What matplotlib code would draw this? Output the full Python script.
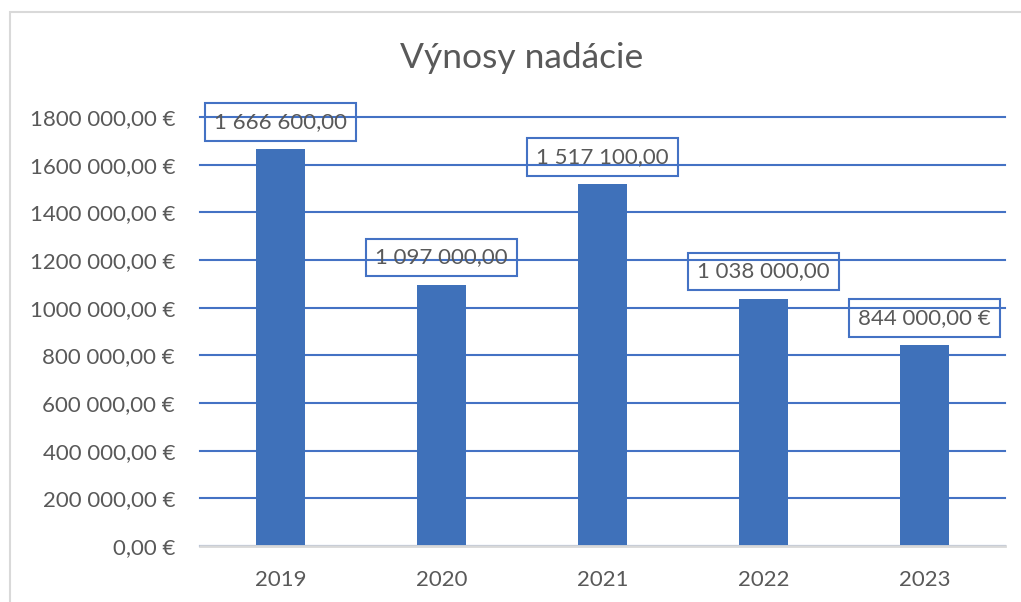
import matplotlib.pyplot as plt
from matplotlib.patches import Rectangle

years = ["2019", "2020", "2021", "2022", "2023"]
values = [1666600, 1097000, 1517100, 1038000, 844000]
labels = ["1 666 600,00", "1 097 000,00", "1 517 100,00", "1 038 000,00", "844 000,00 €"]
yticks = [0, 200000, 400000, 600000, 800000, 1000000, 1200000, 1400000, 1600000, 1800000]
ytick_labels = ["0,00 €", "200 000,00 €", "400 000,00 €", "600 000,00 €", "800 000,00 €",
                "1000 000,00 €", "1200 000,00 €", "1400 000,00 €", "1600 000,00 €", "1800 000,00 €"]

blue = "#4472C4"
bar_blue = "#3F71BA"
grey = "#595959"

plt.rcParams["font.family"] = ["Lato", "DejaVu Sans"]

W, H = 1021, 602
fig = plt.figure(figsize=(W / 100, H / 100), dpi=100)
ax = fig.add_axes([200 / W, 1 - 546 / H, 805 / W, 429 / H])

# rámik oblasti grafu (vpravo a dole orezaný)
fig.patches.append(Rectangle((10 / W, -0.1), 1.2, 1 - 12 / H + 0.1,
                             transform=fig.transFigure, fill=False,
                             edgecolor="#D9D9D9", linewidth=1.5))

x = range(len(years))
ax.bar(x, values, width=0.31, color=bar_blue, zorder=3)
ax.set_xlim(-0.5, 4.5)
ax.set_ylim(0, 1800000)
ax.set_yticks(yticks)
ax.set_yticklabels(ytick_labels)
ax.set_xticks(list(x))
ax.set_xticklabels(years)
ax.grid(axis="y", color=blue, linewidth=1.5, zorder=1)
for gl in ax.get_ygridlines():
    gl.set_clip_on(False)
ax.tick_params(length=0, labelsize=16, colors=grey)
ax.tick_params(axis="y", pad=18)
ax.tick_params(axis="x", pad=17)
for s in ["top", "right", "left"]:
    ax.spines[s].set_visible(False)
ax.spines["bottom"].set_color("#D9D9D9")
ax.spines["bottom"].set_linewidth(2)
ax.spines["bottom"].set_zorder(4)

for xi, v, lab in zip(x, values, labels):
    ax.annotate(lab, (xi, v), xytext=(0, 19.5), textcoords="offset points",
                ha="center", va="center", fontsize=16, color=grey, zorder=5,
                bbox=dict(boxstyle="square,pad=0.4", fc="none", ec=blue, lw=1.5))

fig.text(522 / W, 1 - 58 / H, "Výnosy nadácie", ha="center", va="center",
         fontsize=25.5, color=grey)

fig.savefig("out.png", dpi=100)
